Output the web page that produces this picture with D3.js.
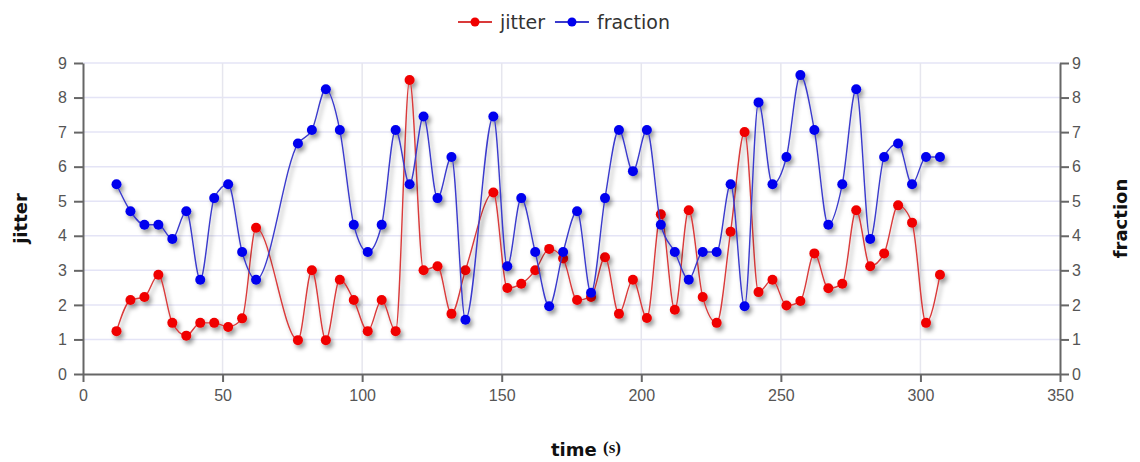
<!DOCTYPE html>
<html>
<head>
<meta charset="utf-8">
<script src="https://cdn.jsdelivr.net/npm/d3@7"></script>
<style>
body { margin: 0; background: #fff; }
svg { display: block; font-family: "DejaVu Sans", Verdana, sans-serif; }
</style>
</head>
<body>
<div id="vis"></div>
<script>
const width = 1140;
const height = 462;

// time (s) of each sample
const times = [12, 17, 22, 27, 32, 37, 42, 47, 52, 57, 62,
	77, 82, 87, 92, 97, 102, 107, 112, 117, 122, 127, 132, 137,
	147, 152, 157, 162, 167, 172, 177, 182, 187, 192, 197, 202, 207, 212, 217, 222, 227,
	232, 237, 242, 247, 252, 257, 262, 267, 272, 277, 282, 287, 292, 297, 302, 307];

const jitter = [1.24, 2.14, 2.23, 2.87, 1.48, 1.11, 1.48, 1.48, 1.36, 1.61, 4.23,
	0.98, 3.0, 0.98, 2.73, 2.14, 1.24, 2.14, 1.24, 8.51, 3.0, 3.12, 1.74, 3.0,
	5.25, 2.49, 2.61, 3.0, 3.62, 3.34, 2.14, 2.23, 3.38, 1.74, 2.73, 1.62, 4.62, 1.86, 4.74, 2.23, 1.48,
	4.12, 7.0, 2.37, 2.73, 1.98, 2.11, 3.49, 2.48, 2.61, 4.74, 3.12, 3.49, 4.88, 4.38, 1.48, 2.87];

const fraction = [5.49, 4.71, 4.32, 4.32, 3.91, 4.71, 2.73, 5.09, 5.49, 3.53, 2.73,
	6.67, 7.06, 8.24, 7.06, 4.32, 3.53, 4.32, 7.06, 5.49, 7.45, 5.09, 6.28, 1.57,
	7.45, 3.12, 5.09, 3.53, 1.96, 3.53, 4.71, 2.35, 5.09, 7.06, 5.87, 7.06, 4.32, 3.53, 2.73, 3.53, 3.53,
	5.49, 1.96, 7.86, 5.49, 6.28, 8.65, 7.06, 4.32, 5.49, 8.24, 3.91, 6.28, 6.67, 5.49, 6.28, 6.28];

const xTicks = [0, 50, 100, 150, 200, 250, 300, 350];
const yTicks = [0, 1, 2, 3, 4, 5, 6, 7, 8, 9];

const margin = {top: 63, right: 80, bottom: 88, left: 83};

const x = d3.scaleLinear().domain([0, 350]).range([margin.left, width - margin.right]);
const yL = d3.scaleLinear().domain([0, 9]).range([height - margin.bottom, margin.top]);
const yR = d3.scaleLinear().domain([0, 9]).range([height - margin.bottom, margin.top]);

const svg = d3.select("#vis").append("svg")
	.attr("width", width)
	.attr("height", height);

const defs = svg.append("defs");
const shadow = defs.append("filter").attr("id", "shadow")
	.attr("x", "-5%").attr("y", "-5%").attr("width", "110%").attr("height", "115%");
shadow.append("feDropShadow")
	.attr("dx", 2.5).attr("dy", 3.5).attr("stdDeviation", 2.2)
	.attr("flood-color", "#000").attr("flood-opacity", 0.4);

// grid
svg.append("g").selectAll("line")
	.data(yTicks.slice(1))
	.enter().append("line")
		.attr("x1", margin.left).attr("x2", width - margin.right)
		.attr("y1", d => yL(d)).attr("y2", d => yL(d))
		.attr("stroke", "#e4e4f6").attr("stroke-width", 1.5);

svg.append("g").selectAll("line")
	.data(xTicks.slice(1, -1))
	.enter().append("line")
		.attr("x1", d => x(d)).attr("x2", d => x(d))
		.attr("y1", margin.top).attr("y2", height - margin.bottom)
		.attr("stroke", "#e6e6ee").attr("stroke-width", 1.5);

// axes
const axisColor = "#666";
const styleAxis = g => {
	g.selectAll(".domain").attr("stroke", axisColor).attr("stroke-width", 2);
	g.selectAll(".tick line").attr("stroke", axisColor).attr("stroke-width", 2);
	g.selectAll(".tick text").attr("fill", "#555").style("font-size", "16px");
};

svg.append("g")
	.attr("transform", `translate(0,${height - margin.bottom})`)
	.call(d3.axisBottom(x).tickValues(xTicks).tickSize(8).tickSizeOuter(0).tickPadding(8))
	.call(styleAxis);

svg.append("g")
	.attr("transform", `translate(${margin.left},0)`)
	.call(d3.axisLeft(yL).tickValues(yTicks).tickSize(9).tickSizeOuter(0).tickPadding(7))
	.call(styleAxis);

svg.append("g")
	.attr("transform", `translate(${width - margin.right},0)`)
	.call(d3.axisRight(yR).tickValues(yTicks).tickSize(9).tickSizeOuter(0).tickPadding(3))
	.call(styleAxis);

// axis titles
svg.append("text")
	.attr("transform", `translate(27,${(yL(0) + yL(9)) / 2}) rotate(-90)`)
	.attr("text-anchor", "middle")
	.attr("font-weight", "bold").style("font-size", "18px").attr("fill", "#111")
	.text("jitter");

svg.append("text")
	.attr("transform", `translate(1127,${(yL(0) + yL(9)) / 2}) rotate(-90)`)
	.attr("text-anchor", "middle")
	.attr("font-weight", "bold").style("font-size", "18px").attr("fill", "#111")
	.text("fraction");

const xt = svg.append("text")
	.attr("x", 586).attr("y", 456)
	.attr("text-anchor", "middle")
	.attr("font-weight", "bold").style("font-size", "18px").attr("fill", "#111");
xt.append("tspan").text("time ");
xt.append("tspan").attr("font-family", "Liberation Serif, serif").attr("dy", -3)
	.style("font-size", "17px").text("(s)");

// series
const series = [
	{name: "jitter", values: jitter, y: yL, line: "#d93a3a", dot: "#f00000"},
	{name: "fraction", values: fraction, y: yR, line: "#3a3acc", dot: "#0000ee"}
];

series.forEach(s => {
	const pts = times.map((t, i) => [t, s.values[i]]);
	const g = svg.append("g").attr("filter", "url(#shadow)");
	g.append("path")
		.datum(pts)
		.attr("fill", "none")
		.attr("stroke", s.line)
		.attr("stroke-width", 1.4)
		.attr("d", d3.line().curve(d3.curveMonotoneX).x(d => x(d[0])).y(d => s.y(d[1])));
	g.selectAll("circle")
		.data(pts)
		.enter().append("circle")
			.attr("cx", d => x(d[0]))
			.attr("cy", d => s.y(d[1]))
			.attr("r", 5)
			.attr("fill", s.dot);
});

// legend
const legend = svg.append("g").attr("transform", "translate(458,22)");
let lx = 0;
series.forEach(s => {
	const item = legend.append("g").attr("transform", `translate(${lx},0)`);
	item.append("line").attr("x1", 0).attr("x2", 34).attr("y1", 0).attr("y2", 0)
		.attr("stroke", s.line).attr("stroke-width", 2);
	item.append("circle").attr("cx", 17).attr("cy", 0).attr("r", 4.5).attr("fill", s.dot);
	const t = item.append("text").attr("x", 42).attr("y", 7)
		.style("font-size", "19px").attr("fill", "#333").text(s.name);
	lx += 42 + t.node().getComputedTextLength() + 10;
});
</script>
</body>
</html>
